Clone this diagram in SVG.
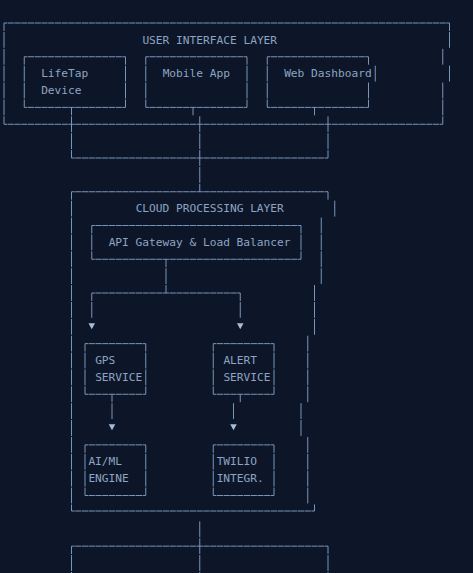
<svg xmlns="http://www.w3.org/2000/svg" width="473" height="573" viewBox="0 0 473 573">
<style>
.bg{fill:#0c1628}
path{fill:none;stroke:#7b95b9;stroke-width:1}
.h{stroke-dasharray:6.25 0.5;stroke-dashoffset:3.125}
.vt{stroke-dasharray:15.875 1;stroke-dashoffset:16.375}
.vc{stroke-dasharray:15.875 1;stroke-dashoffset:7.9375}
text{font-family:"DejaVu Sans Mono","Liberation Mono",monospace;font-size:11.2px;fill:#8ea4c2}
.arw{fill:#a6bddc;stroke:none}
</style>
<rect class="bg" x="0" y="0" width="473" height="573"/>
<g id="ui-layer">
<path class="h" d="M4 23H449.5"/>
<path class="h" d="M4 124.25H442.75"/>
<path class="vc" d="M4 23V124.25"/>
<path class="vc" d="M449.5 23V48.3125"/>
<path class="vt" d="M442.75 48.3125V65.1875"/>
<path class="vt" d="M449.5 65.1875V82.0625"/>
<path class="vt" d="M442.75 82.0625V124.25"/>
<text x="142.375" y="43.5">USER INTERFACE LAYER</text>
</g>
<g id="lifetap-device">
<path class="h" d="M24.25 56.75H125.5M24.25 107.375H125.5"/>
<path class="vc" d="M24.25 56.75V107.375M125.5 56.75V107.375"/>
<text x="41.125" y="77.3">LifeTap</text>
<text x="41.125" y="94.2">Device</text>
</g>
<g id="mobile-app">
<path class="h" d="M145.75 56.75H247M145.75 107.375H247"/>
<path class="vc" d="M145.75 56.75V107.375M247 56.75V107.375"/>
<text x="162.625" y="77.3">Mobile App</text>
</g>
<g id="web-dashboard">
<path class="h" d="M267.25 56.75H368.5M267.25 107.375H368.5"/>
<path class="vc" d="M267.25 56.75V107.375M368.5 56.75V65.1875"/>
<path class="vt" d="M375.25 65.1875V82.0625M368.5 82.0625V107.375"/>
<text x="284.125" y="77.3">Web Dashboard</text>
</g>
<g id="cloud-layer">
<path class="h" d="M71.5 191.75H328"/>
<path class="h" d="M71.5 511H314.5"/>
<path class="vc" d="M71.5 191.75V511"/>
<path class="vc" d="M328 191.75V200.1875"/>
<path class="vt" d="M334.75 200.1875V217.0625"/>
<path class="vt" d="M321.25 217.0625V284.5625"/>
<path class="vt" d="M314.5 284.5625V335.1875"/>
<path class="vt" d="M307.75 335.1875V402.6875"/>
<path class="vt" d="M301 402.6875V436.4375"/>
<path class="vt" d="M307.75 436.4375V503.9375"/>
<path class="vt" d="M314.5 503.9375V511"/>
<text x="135.625" y="212.2">CLOUD PROCESSING LAYER</text>
</g>
<g id="api-gateway">
<path class="h" d="M91.75 225.5H301M91.75 259.25H301"/>
<path class="vc" d="M91.75 225.5V259.25M301 225.5V259.25"/>
<text x="108.625" y="246">API Gateway &amp; Load Balancer</text>
</g>
<g id="gps-service">
<path class="h" d="M85 343.625H145.75M85 394.25H145.75"/>
<path class="vc" d="M85 343.625V394.25M145.75 343.625V394.25"/>
<text x="95.125" y="364.1">GPS</text>
<text x="95.125" y="381">SERVICE</text>
</g>
<g id="alert-service">
<path class="h" d="M213.25 343.625H274M213.25 394.25H274"/>
<path class="vc" d="M213.25 343.625V394.25M274 343.625V394.25"/>
<text x="223.375" y="364.1">ALERT</text>
<text x="223.375" y="381">SERVICE</text>
</g>
<g id="aiml-engine">
<path class="h" d="M85 444.875H145.75M85 495.5H145.75"/>
<path class="vc" d="M85 444.875V495.5M145.75 444.875V495.5"/>
<text x="88.375" y="465.35">AI/ML</text>
<text x="88.375" y="482.2">ENGINE</text>
</g>
<g id="twilio-integration">
<path class="h" d="M213.25 444.875H274M213.25 495.5H274"/>
<path class="vc" d="M213.25 444.875V495.5M274 444.875V495.5"/>
<text x="216.625" y="465.35">TWILIO</text>
<text x="216.625" y="482.2">INTEGR.</text>
</g>
<g id="connectors">
<path class="vc" d="M71.5 107.375V158"/>
<path class="vc" d="M193 107.375V115.8125"/>
<path class="vt" d="M199.75 115.8125V191.75"/>
<path class="vc" d="M314.5 107.375V115.8125"/>
<path class="vt" d="M328 115.8125V158"/>
<path class="h" d="M71.5 158H328"/>
<path class="vc" d="M166 259.25V293"/>
<path class="h" d="M91.75 293H240.25"/>
<path class="vc" d="M91.75 293V318.3M240.25 293V318.3"/>
<polygon class="arw" points="88.5,323.3 95,323.3 91.75,329.3"/>
<polygon class="arw" points="237,323.3 243.5,323.3 240.25,329.3"/>
<path class="vc" d="M112 394.25V419.6"/>
<path class="vc" d="M240.25 394.25V402.6875"/>
<path class="vt" d="M233.5 402.6875V419.6"/>
<polygon class="arw" points="108.75,424.3 115.25,424.3 112,430.3"/>
<polygon class="arw" points="230.25,424.3 236.75,424.3 233.5,430.3"/>
<path class="vt" d="M199.75 520.8125V573"/>
<path class="h" d="M71.5 546.125H328"/>
<path class="vc" d="M71.5 546.125V573M328 546.125V573"/>
</g>
</svg>
